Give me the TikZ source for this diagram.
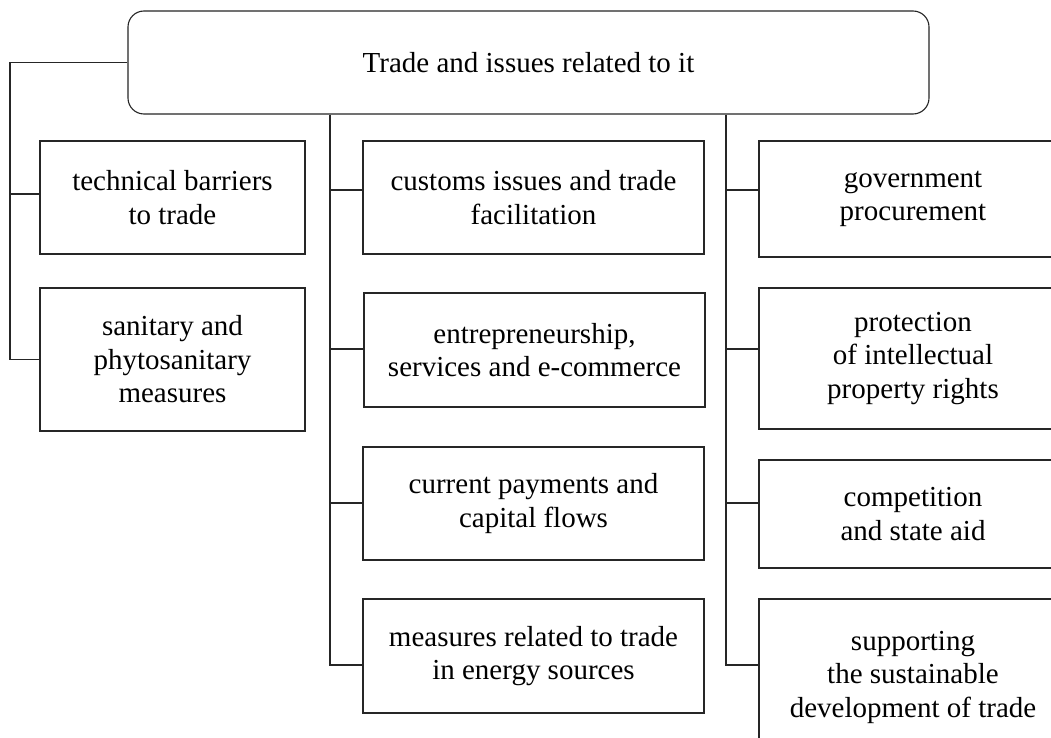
\documentclass[tikz,border=0pt]{standalone}
\usepackage{fontspec}
\setmainfont{Liberation Serif}
\begin{document}
\begin{tikzpicture}[x=1pt,y=-1pt,
  box/.style={draw=black!85,line width=1.1pt,rectangle,inner sep=0pt,align=center,
    font=\fontsize{29}{33.5}\selectfont},
  link/.style={draw=black!85,line width=1.1pt}]
\useasboundingbox (0,0) rectangle (1051,738);
\clip (0,0) rectangle (1051,738);
\fill[white] (0,0) rectangle (1051,738);
% top
\node[box,rounded corners=16pt,minimum width=801pt,minimum height=103pt] (top) at (528.5,62.5) {Trade and issues related to it};
% left column
\node[box,minimum width=265pt,minimum height=113pt] (tb) at (172.5,197.5) {technical barriers\\to trade};
\node[box,minimum width=265pt,minimum height=143pt] (sps) at (172.5,359.5) {sanitary and\\phytosanitary\\measures};
% middle column
\node[box,minimum width=341pt,minimum height=113pt] (cus) at (533.5,197.5) {customs issues and trade\\facilitation};
\node[box,minimum width=341pt,minimum height=114pt] (ent) at (534.5,350) {entrepreneurship,\\services and e-commerce};
\node[box,minimum width=341pt,minimum height=113pt] (cur) at (533.5,503.5) {current payments and\\capital flows};
\node[box,minimum width=341pt,minimum height=114pt] (mea) at (533.5,656) {measures related to trade\\in energy sources};
% right column
\node[box,minimum width=308pt,minimum height=116pt] (gov) at (913,199) {government\\procurement};
\node[box,minimum width=308pt,minimum height=141pt] (ipr) at (913,358.5) {protection\\of intellectual\\property rights};
\node[box,minimum width=308pt,minimum height=108pt] (com) at (913,514) {competition\\and state aid};
\node[box,minimum width=308pt,minimum height=156pt] (sup) at (913,677) {supporting\\the sustainable\\development of trade};
% trunk coordinates
\coordinate (lx) at (10,0);
\coordinate (mx) at (330,0);
\coordinate (rx) at (726,0);
\coordinate (b0) at (0,194);
\coordinate (b1) at (0,190);
\coordinate (b2) at (0,349);
\coordinate (b3) at (0,503);
\coordinate (b4) at (0,665);
% left connectors
\draw[link] (top.west) -| (sps.west -| lx) -- (sps.west);
\draw[link] (b0 -| lx) -- (b0 -| tb.west);
% middle connectors
\draw[link] (top.south -| mx) -- (b4 -| mx) -- (b4 -| mea.west);
\draw[link] (b1 -| mx) -- (b1 -| cus.west);
\draw[link] (b2 -| mx) -- (b2 -| ent.west);
\draw[link] (b3 -| mx) -- (b3 -| cur.west);
% right connectors
\draw[link] (top.south -| rx) -- (b4 -| rx) -- (b4 -| sup.west);
\draw[link] (b1 -| rx) -- (b1 -| gov.west);
\draw[link] (b2 -| rx) -- (b2 -| ipr.west);
\draw[link] (b3 -| rx) -- (b3 -| com.west);
\end{tikzpicture}
\end{document}
